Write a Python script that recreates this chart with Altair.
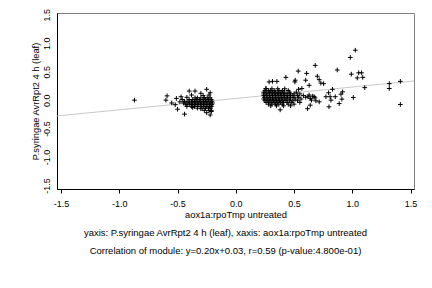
import altair as alt
import pandas as pd

FONT = "Liberation Sans"

# Scatter data (x: aox1a:rpoTmp untreated, y: P.syringae AvrRpt2 4 h (leaf))
cluster1_x = [
    -0.87,
    -0.59, -0.60, -0.51, -0.47, -0.40, -0.35, -0.25, -0.22, -0.44, -0.50, -0.22,
    -0.55, -0.52, -0.48, -0.46, -0.42, -0.38, -0.30, -0.28, -0.23, -0.21, -0.25,
    -0.30, -0.37, -0.42, -0.35,
    -0.33, -0.30, -0.27, -0.245, -0.22,
    -0.40, -0.37, -0.34, -0.31, -0.28, -0.26, -0.235, -0.21,
    -0.44, -0.41, -0.38, -0.355, -0.33, -0.305, -0.28, -0.255, -0.23, -0.205,
    -0.45, -0.42, -0.395, -0.37, -0.345, -0.32, -0.295, -0.27, -0.245, -0.22, -0.20,
    -0.43, -0.40, -0.375, -0.35, -0.325, -0.30, -0.275, -0.25, -0.225, -0.205,
    -0.38, -0.355, -0.33, -0.30, -0.275, -0.25, -0.225, -0.21,
    -0.33, -0.29, -0.26, -0.235, -0.215,
    -0.27, -0.23, -0.21,
]
cluster1_y = [
    0.0,
    0.075, 0.0, 0.03, 0.06, 0.16, 0.16, 0.19, 0.13, -0.245, -0.16, -0.26,
    -0.05, -0.08, -0.03, 0.01, 0.05, 0.09, 0.12, 0.08, 0.09, -0.20, -0.22,
    -0.15, -0.13, -0.11, 0.04,
    0.04, 0.04, 0.04, 0.04, 0.04,
    0.01, 0.01, 0.01, 0.01, 0.01, 0.01, 0.01, 0.01,
    -0.02, -0.02, -0.02, -0.02, -0.02, -0.02, -0.02, -0.02, -0.02, -0.02,
    -0.05, -0.05, -0.05, -0.05, -0.05, -0.05, -0.05, -0.05, -0.05, -0.05, -0.05,
    -0.08, -0.08, -0.08, -0.08, -0.08, -0.08, -0.08, -0.08, -0.08, -0.08,
    -0.11, -0.11, -0.11, -0.11, -0.11, -0.11, -0.11, -0.11,
    -0.14, -0.14, -0.14, -0.14, -0.14,
    -0.18, -0.18, -0.18,
]

cluster2_x = [
    # scattered
    1.026, 0.983, 0.682, 0.536, 0.608, 0.871, 0.992, 1.055, 1.08, 1.043, 1.09,
    0.70, 0.716, 0.73, 0.754, 0.43, 0.51, 0.60, 1.318, 1.413, 1.318, 1.107,
    1.413, 1.009, 0.917, 0.903, 0.83, 0.797, 0.774, 0.81, 0.854, 0.911, 0.817,
    0.888, 0.80, 0.716, 0.688, 0.639, 0.616, 0.381, 0.63, 0.567, 0.539, 0.507,
    0.286, 0.315, 0.353, 0.258, 0.673,
    0.62, 0.64, 0.66, 0.68, 0.65, 0.63,
    # dense core
    0.26, 0.31, 0.36, 0.42,
    0.25, 0.28, 0.30, 0.33, 0.37, 0.40, 0.45,
    0.24, 0.265, 0.29, 0.315, 0.34, 0.365, 0.39, 0.42, 0.46, 0.52,
    0.24, 0.26, 0.285, 0.31, 0.335, 0.36, 0.385, 0.41, 0.44, 0.47, 0.50, 0.55,
    0.24, 0.265, 0.29, 0.315, 0.34, 0.365, 0.39, 0.415, 0.44, 0.465, 0.49, 0.53, 0.58,
    0.245, 0.27, 0.295, 0.32, 0.345, 0.37, 0.395, 0.42, 0.445, 0.47, 0.50, 0.54, 0.60,
    0.24, 0.265, 0.29, 0.315, 0.34, 0.365, 0.39, 0.415, 0.44, 0.47, 0.51, 0.56,
    0.25, 0.275, 0.30, 0.325, 0.35, 0.375, 0.40, 0.43, 0.46, 0.49, 0.53,
    0.26, 0.285, 0.31, 0.335, 0.36, 0.385, 0.41, 0.44, 0.48, 0.55,
    0.28, 0.31, 0.34, 0.37, 0.40, 0.45, 0.50,
    0.30, 0.35, 0.41, 0.47,
]
cluster2_y = [
    0.877, 0.75, 0.61, 0.51, 0.47, 0.53, 0.456, 0.48, 0.48, 0.39, 0.40,
    0.42, 0.36, 0.30, 0.29, 0.40, 0.35, 0.35, 0.29, 0.33, 0.205, 0.22,
    -0.076, 0.047, 0.146, 0.105, 0.19, 0.13, 0.06, 0.06, 0.06, 0.018, 0.0,
    -0.06, -0.117, -0.03, -0.012, -0.088, -0.15, -0.17, 0.26, 0.205, 0.19, 0.32,
    0.32, 0.33, 0.33, 0.205, 0.06,
    0.06, 0.03, 0.07, 0.04, 0.0, 0.09,
    0.20, 0.20, 0.20, 0.20,
    0.17, 0.17, 0.17, 0.17, 0.17, 0.17, 0.17,
    0.14, 0.14, 0.14, 0.14, 0.14, 0.14, 0.14, 0.14, 0.14, 0.14,
    0.11, 0.11, 0.11, 0.11, 0.11, 0.11, 0.11, 0.11, 0.11, 0.11, 0.11, 0.11,
    0.08, 0.08, 0.08, 0.08, 0.08, 0.08, 0.08, 0.08, 0.08, 0.08, 0.08, 0.08, 0.08,
    0.05, 0.05, 0.05, 0.05, 0.05, 0.05, 0.05, 0.05, 0.05, 0.05, 0.05, 0.05, 0.05,
    0.02, 0.02, 0.02, 0.02, 0.02, 0.02, 0.02, 0.02, 0.02, 0.02, 0.02, 0.02,
    -0.01, -0.01, -0.01, -0.01, -0.01, -0.01, -0.01, -0.01, -0.01, -0.01, -0.01,
    -0.04, -0.04, -0.04, -0.04, -0.04, -0.04, -0.04, -0.04, -0.04, -0.04,
    -0.07, -0.07, -0.07, -0.07, -0.07, -0.07, -0.07,
    -0.10, -0.10, -0.10, -0.10,
]

slope = 0.20
intercept = 0.03
x_domain = [-1.535, 1.53]
y_domain = [-1.56, 1.53]
ticks = [-1.5, -1.0, -0.5, 0.0, 0.5, 1.0, 1.5]

x_title = "aox1a:rpoTmp untreated"
y_title = "P.syringae AvrRpt2 4 h (leaf)"
caption = [
    "yaxis: P.syringae AvrRpt2 4 h (leaf), xaxis: aox1a:rpoTmp untreated",
    "Correlation of module: y=0.20x+0.03, r=0.59 (p-value:4.800e-01)",
]

pts = pd.DataFrame({"x": cluster1_x + cluster2_x, "y": cluster1_y + cluster2_y})
line_df = pd.DataFrame({"x": x_domain})

label_expr = "replace(format(datum.value, '.1f'), '\u2212', '-')"

xscale = alt.Scale(domain=x_domain, nice=False, zero=False)
yscale = alt.Scale(domain=y_domain, nice=False, zero=False)

xaxis = alt.Axis(
    values=ticks, labelExpr=label_expr, grid=False, tickSize=4, tickColor="black",
    domainColor="black", labelFont=FONT, labelFontSize=9, labelColor="black",
    labelPadding=6, labelOverlap=False, title=x_title, titleFont=FONT,
    titleFontSize=9.3, titleFontWeight="normal", titleColor="black", titlePadding=2,
)
yaxis = alt.Axis(
    values=ticks, labelExpr=label_expr, grid=False, ticks=False,
    domainColor="black", labelFont=FONT, labelFontSize=9, labelColor="black",
    labelAngle=270, labelPadding=6, labelOverlap=False, labelBound=False,
    labelFlush=False, title=y_title, titleFont=FONT,
    titleFontSize=9.3, titleFontWeight="normal", titleColor="black", titlePadding=2,
)

line = alt.Chart(line_df).transform_calculate(
    y=f"{slope} * datum.x + {intercept}"
).mark_line(color="#c8c8c8", strokeWidth=1, clip=True).encode(
    x=alt.X("x:Q", scale=xscale, axis=xaxis),
    y=alt.Y("y:Q", scale=yscale, axis=yaxis),
)

plus = "M-1,0L1,0M0,-1L0,1"
points = alt.Chart(pts).mark_point(
    shape=plus, filled=False, stroke="black", strokeWidth=1, size=22, opacity=1,
).encode(
    x=alt.X("x:Q", scale=xscale, axis=xaxis),
    y=alt.Y("y:Q", scale=yscale, axis=yaxis),
)

chart = alt.layer(line, points).properties(
    width=357, height=176,
    autosize=alt.AutoSizeParams(type="none"),
    padding={"left": 57, "top": 13, "right": 18, "bottom": 99},
    background="white",
    title=alt.TitleParams(
        text=caption, orient="bottom", anchor="middle", font=FONT, fontSize=9.5,
        fontWeight="normal", color="black", lineHeight=18, offset=9, dx=-10,
    ),
).configure_view(stroke="#808080", strokeWidth=1).configure_axis(labelOverlap=False)

chart.save("out.html", embed_options={"renderer": "svg", "actions": False})
